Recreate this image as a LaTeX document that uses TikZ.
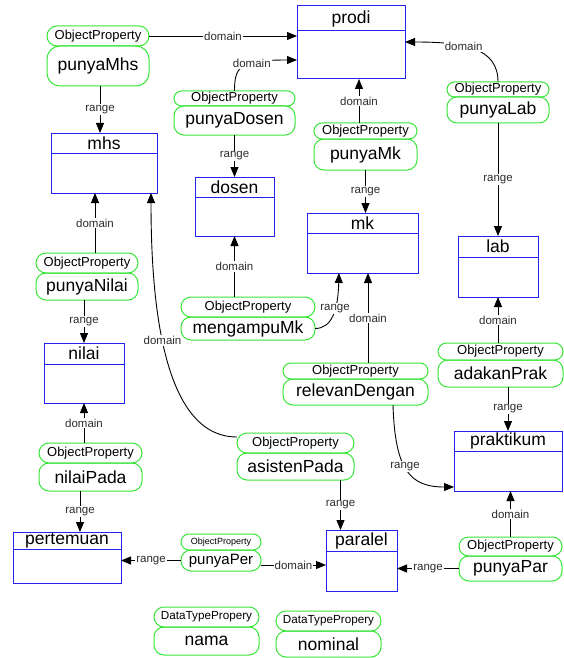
\documentclass[tikz,border=0pt]{standalone}
\usepackage{fontspec}
\setmainfont{Liberation Sans}
\usetikzlibrary{positioning, arrows.meta, shapes.misc}
\definecolor{clsblue}{RGB}{35,35,235}
\definecolor{propgreen}{RGB}{55,230,55}
\definecolor{lblgray}{RGB}{45,45,45}

\begin{document}
\begin{tikzpicture}[
    x=1pt, y=-1pt,
    node distance = 0pt,
    every node/.style = {inner sep=0pt, outer sep=0pt},
    cls/.style = {draw=clsblue, line width=1pt, rectangle,
        font=\fontsize{17.5}{18}\selectfont},
    clsbody/.style = {draw=clsblue, line width=1pt, rectangle},
    optag/.style = {draw=propgreen, line width=1pt, rounded rectangle,
        font=\fontsize{13}{14}\selectfont},
    opname/.style = {draw=propgreen, line width=1pt, rectangle, rounded corners=10pt,
        font=\fontsize{17.5}{18}\selectfont},
    rel/.style = {draw, line width=0.9pt, -{Triangle[length=10pt,width=8pt]}},
    lbl/.style = {fill=white, text=lblgray, inner sep=1pt,
        font=\fontsize{11.5}{12}\selectfont}
  ]
    \useasboundingbox (0,0) rectangle (564,658);

    % kelas
    \node[cls, minimum width=108pt, minimum height=25pt] (prodi) at (351,18.5) {prodi};
    \node[clsbody, minimum width=108pt, minimum height=48pt, below=of prodi] (prodiB) {};
    \node[cls, minimum width=106pt, minimum height=20pt] (mhs) at (104,143) {mhs};
    \node[clsbody, minimum width=106pt, minimum height=40pt, below=of mhs] (mhsB) {};
    \node[cls, minimum width=79pt, minimum height=20pt] (dosen) at (234.5,187) {dosen};
    \node[clsbody, minimum width=79pt, minimum height=39pt, below=of dosen] (dosenB) {};
    \node[cls, minimum width=111pt, minimum height=20pt] (mk) at (362.5,223) {mk};
    \node[clsbody, minimum width=111pt, minimum height=40pt, below=of mk] (mkB) {};
    \node[cls, minimum width=80pt, minimum height=21pt] (lab) at (498,246.5) {lab};
    \node[clsbody, minimum width=80pt, minimum height=40pt, below=of lab] (labB) {};
    \node[cls, minimum width=80pt, minimum height=21pt] (nilai) at (84,353.5) {nilai};
    \node[clsbody, minimum width=80pt, minimum height=39pt, below=of nilai] (nilaiB) {};
    \node[cls, minimum width=108pt, minimum height=17pt] (pert) at (67,540.5) {pertemuan};
    \node[clsbody, minimum width=108pt, minimum height=34pt, below=of pert] (pertB) {};
    \node[cls, minimum width=108pt, minimum height=20pt] (prak) at (508,441) {praktikum};
    \node[clsbody, minimum width=108pt, minimum height=40pt, below=of prak] (prakB) {};
    \node[cls, minimum width=71pt, minimum height=21pt] (paralel) at (361.5,540.5) {paralel};
    \node[clsbody, minimum width=71pt, minimum height=40pt, below=of paralel] (paralelB) {};

    % object property
    \node[optag, minimum width=102pt, minimum height=20pt] (pMhsT) at (98,36) {ObjectProperty};
    \node[opname, minimum width=102pt, minimum height=40pt, below=of pMhsT, rounded corners=13pt] (pMhsN) {punyaMhs};
    \node[optag, minimum width=121pt, minimum height=15pt] (pDosenT) at (234.5,98.5) {ObjectProperty};
    \node[opname, minimum width=121pt, minimum height=29pt, below=of pDosenT] (pDosenN) {punyaDosen};
    \node[optag, minimum width=103pt, minimum height=16pt] (pMkT) at (365.5,131) {ObjectProperty};
    \node[opname, minimum width=103pt, minimum height=31pt, below=of pMkT] (pMkN) {punyaMk};
    \node[optag, minimum width=102pt, minimum height=15pt] (pLabT) at (498,89.5) {ObjectProperty};
    \node[opname, minimum width=102pt, minimum height=26pt, below=of pLabT] (pLabN) {punyaLab};
    \node[optag, minimum width=102pt, minimum height=20pt] (pNilaiT) at (87,263) {ObjectProperty};
    \node[opname, minimum width=102pt, minimum height=27pt, below=of pNilaiT] (pNilaiN) {punyaNilai};
    \node[optag, minimum width=134pt, minimum height=20pt] (pMengT) at (248,307) {ObjectProperty};
    \node[opname, minimum width=134pt, minimum height=23pt, below=of pMengT] (pMengN) {mengampuMk};
    \node[optag, minimum width=145pt, minimum height=16pt] (pRelT) at (355.5,371) {ObjectProperty};
    \node[opname, minimum width=145pt, minimum height=26pt, below=of pRelT] (pRelN) {relevanDengan};
    \node[optag, minimum width=125pt, minimum height=17pt] (pAdaT) at (500.5,351.5) {ObjectProperty};
    \node[opname, minimum width=125pt, minimum height=27pt, below=of pAdaT] (pAdaN) {adakanPrak};
    \node[optag, minimum width=103pt, minimum height=20pt] (pNpT) at (90.5,453) {ObjectProperty};
    \node[opname, minimum width=103pt, minimum height=28pt, below=of pNpT] (pNpN) {nilaiPada};
    \node[optag, minimum width=117pt, minimum height=20pt] (pAsisT) at (295.5,443) {ObjectProperty};
    \node[opname, minimum width=117pt, minimum height=27pt, below=of pAsisT] (pAsisN) {asistenPada};
    \node[optag, minimum width=80pt, minimum height=16pt, font=\fontsize{9}{10}\selectfont] (pPerT) at (221,542) {ObjectProperty};
    \node[opname, minimum width=80pt, minimum height=21pt, below=of pPerT, font=\fontsize{15}{16}\selectfont] (pPerN) {punyaPer};
    \node[optag, minimum width=103pt, minimum height=19pt] (pParT) at (510.5,546.5) {ObjectProperty};
    \node[opname, minimum width=103pt, minimum height=25pt, below=of pParT] (pParN) {punyaPar};

    % datatype property
    \node[optag, minimum width=105pt, minimum height=20pt, font=\fontsize{11.7}{12}\selectfont] (dNamaT) at (206.5,617) {DataTypePropery};
    \node[opname, minimum width=105pt, minimum height=28pt, below=of dNamaT] (dNamaN) {nama};
    \node[optag, minimum width=105pt, minimum height=20pt, font=\fontsize{11.7}{12}\selectfont] (dNomT) at (328.5,621) {DataTypePropery};
    \node[opname, minimum width=105pt, minimum height=26pt, below=of dNomT] (dNomN) {nominal};

    % titik bantu
    \coordinate (dosenIn) at ([yshift=-5pt]prodiB.west);
    \coordinate (labIn) at ([yshift=13pt]prodiB.east);
    \coordinate (mkUp) at ([xshift=-6.5pt]pMkT.north);
    \coordinate (mhsDown) at ([xshift=2pt]pMhsN.south);
    \coordinate (nilaiUp) at ([xshift=8pt]pNilaiT.north);
    \coordinate (asisOut) at ([yshift=6pt]pAsisT.west);
    \coordinate (mhsIn) at ([xshift=-6pt]mhsB.south east);
    \coordinate (mkIn) at ([xshift=32pt]mkB.south west);
    \coordinate (relUp) at ([xshift=12.5pt]pRelT.north);
    \coordinate (relOut) at ([xshift=37.5pt]pRelN.south);
    \coordinate (prakIn) at ([yshift=-16pt]prakB.west);
    \coordinate (npDown) at ([xshift=-10.5pt]pNpN.south);
    \coordinate (parIn) at ([xshift=-21pt]paralel.north);
    \coordinate (perOut) at ([yshift=-4.5pt]pPerN.east);

    % domain / range
    \draw[rel] (pMhsT.east) -- (pMhsT.east -| prodiB.west) node[lbl, midway] {domain};
    \draw[rel] (pDosenT.north) .. controls +(0,-25) and +(-57,0) .. (dosenIn) node[lbl, pos=0.62] {domain};
    \draw[rel] (mkUp) -- (mkUp |- prodiB.south) node[lbl, midway] {domain};
    \draw[rel] (pLabT.north) .. controls +(0,-34) and +(60,0) .. (labIn) node[lbl, pos=0.6] {domain};
    \draw[rel] (mhsDown) -- (mhsDown |- mhs.north) node[lbl, midway] {range};
    \draw[rel] (pDosenN.south) -- (dosen.north) node[lbl, midway] {range};
    \draw[rel] (pMkN.south) -- (pMkN.south |- mk.north) node[lbl, midway] {range};
    \draw[rel] (pLabN.south) -- (lab.north) node[lbl, midway] {range};
    \draw[rel] (nilaiUp) -- (nilaiUp |- mhsB.south) node[lbl, midway] {domain};
    \draw[rel] (nilai.north |- pNilaiN.south) -- (nilai.north) node[lbl, midway] {range};
    \draw[rel] (asisOut) .. controls +(-75,0) and +(0,107) .. (mhsIn) node[lbl, pos=0.55] {domain};
    \draw[rel] (dosenB.south |- pMengT.north) -- (dosenB.south) node[lbl, midway] {domain};
    \draw[rel] (pMengN.east) .. controls +(17,0) and +(-1,37) .. (mkIn) node[lbl, pos=0.6] {range};
    \draw[rel] (relUp) -- (relUp |- mkB.south) node[lbl, midway] {domain};
    \draw[rel] (relOut) .. controls +(2,65) and +(-44,0) .. (prakIn) node[lbl, pos=0.45] {range};
    \draw[rel] (labB.south |- pAdaT.north) -- (labB.south) node[lbl, midway] {domain};
    \draw[rel] (prak.north |- pAdaN.south) -- (prak.north) node[lbl, midway] {range};
    \draw[rel] (nilaiB.south |- pNpT.north) -- (nilaiB.south) node[lbl, midway] {domain};
    \draw[rel] (npDown) -- (npDown |- pert.north) node[lbl, midway] {range};
    \draw[rel] (parIn |- pAsisN.south) -- (parIn) node[lbl, midway] {range};
    \draw[rel] (pPerN.west) -- (pPerN.west -| pertB.east) node[lbl, midway] {range};
    \draw[rel] (perOut) -- (perOut -| paralelB.west) node[lbl, midway] {domain};
    \draw[rel] (pParT.north) -- (pParT.north |- prakB.south) node[lbl, midway] {domain};
    \draw[rel] (pParN.west) -- (pParN.west -| paralelB.east) node[lbl, midway] {range};
\end{tikzpicture}
\end{document}
